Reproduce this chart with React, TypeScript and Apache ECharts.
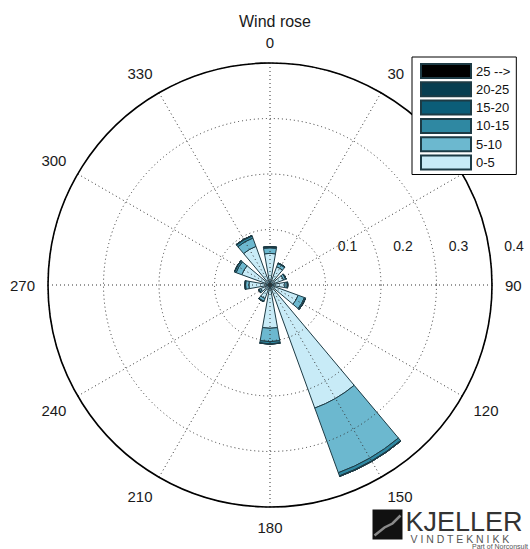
import React, { useEffect, useRef } from 'react';
import * as echarts from 'echarts';

// Direction sectors (degrees, clockwise from north)
const directions = ['0', '30', '60', '90', '120', '150', '180', '210', '240', '270', '300', '330'];
// Speed bins (m/s), inner to outer
const speedBins = ['0-5', '5-10', '10-15', '15-20', '20-25', '25 -->'];
// Frequencies per bin per direction (fraction of time)
const freq0to5 = [0.057, 0.035, 0.026, 0.027, 0.054, 0.236, 0.078, 0.026, 0.018, 0.038, 0.054, 0.074];
const freq5to10 = [0.010, 0.006, 0.004, 0.004, 0.012, 0.124, 0.024, 0.005, 0.003, 0.006, 0.011, 0.016];
const freq10to15 = [0.002, 0.001, 0.001, 0.001, 0.002, 0.006, 0.004, 0.001, 0.001, 0.001, 0.003, 0.004];
const freq15to20 = [0, 0, 0, 0, 0.0005, 0.001, 0.0005, 0, 0, 0, 0.0005, 0.001];
const freq20to25 = [0, 0, 0, 0, 0, 0, 0, 0, 0, 0, 0, 0];
const freq25plus = [0, 0, 0, 0, 0, 0, 0, 0, 0, 0, 0, 0];
const binValues = [freq0to5, freq5to10, freq10to15, freq15to20, freq20to25, freq25plus];
const binColors = ['#c8ebf7', '#6cb8cf', '#2f88a2', '#0b5d78', '#073e51', '#000000'];
const legendOrder = ['25 -->', '20-25', '15-20', '10-15', '5-10', '0-5'];
// Radial axis
const radiusMax = 0.4;
const radiusStep = 0.1;

const FONT = "'Liberation Sans', Arial, Helvetica, sans-serif";

export default function App() {
  const ref = useRef<HTMLDivElement>(null);
  useEffect(() => {
    if (!ref.current) return;
    const chart = echarts.init(ref.current, null, { renderer: 'svg' });
    const center = [270, 285];
    const radius = 222;
    const dotted = { color: '#333', width: 1, type: [1, 3] as any };
    chart.setOption({
      animation: false,
      backgroundColor: '#fff',
      textStyle: { fontFamily: FONT },
      title: {
        text: 'Wind rose',
        left: 270,
        top: 8,
        textAlign: 'center',
        textStyle: { fontSize: 16, fontWeight: 'normal', color: '#1a1a1a', fontFamily: FONT },
      },
      legend: {
        orient: 'vertical',
        left: 412,
        top: 57,
        padding: [6, 6, 4, 8],
        data: legendOrder,
        itemWidth: 50,
        itemHeight: 14,
        itemGap: 2.3,
        backgroundColor: '#fff',
        borderColor: '#000',
        borderWidth: 1,
        borderRadius: 0,
        icon: 'rect',
        textStyle: { fontSize: 13, color: '#111', lineHeight: 14, fontFamily: FONT },
        z: 20,
      },
      polar: [
        { center, radius },
        { center, radius },
      ],
      angleAxis: [
        {
          polarIndex: 0,
          type: 'category',
          data: directions,
          startAngle: 105,
          clockwise: true,
          boundaryGap: true,
          axisLine: { show: false },
          axisTick: { show: false },
          axisLabel: { show: false },
          splitLine: { show: false },
        },
        {
          polarIndex: 1,
          type: 'value',
          min: 90,
          max: 450,
          interval: 30,
          startAngle: 0,
          clockwise: true,
          z: 10,
          axisLine: { show: true, lineStyle: { color: '#000', width: 1.6 } },
          axisTick: { show: false },
          axisLabel: {
            show: true,
            margin: 13,
            fontSize: 15,
            color: '#1a1a1a',
            fontFamily: FONT,
            formatter: (v: number) => String(v % 360),
          },
          splitLine: { show: true, lineStyle: dotted },
        },
      ],
      radiusAxis: [
        {
          polarIndex: 0,
          type: 'value',
          min: 0,
          max: radiusMax,
          axisLine: { show: false },
          axisTick: { show: false },
          axisLabel: { show: false },
          splitLine: { show: false },
        },
        {
          polarIndex: 1,
          type: 'value',
          min: 0,
          max: radiusMax,
          interval: radiusStep,
          z: 10,
          axisLine: { show: false },
          axisTick: { show: false },
          axisLabel: {
            show: true,
            fontSize: 14,
            color: '#1a1a1a',
            fontFamily: FONT,
            margin: 32,
            padding: [0, 0, 0, 44],
            formatter: (v: number) => (v === 0 ? '' : (Math.round(v * 10) / 10).toFixed(1)),
          },
          splitLine: { show: true, lineStyle: dotted },
        },
      ],
      series: speedBins.map((name, i) => ({
        name,
        type: 'bar',
        coordinateSystem: 'polar',
        polarIndex: 0,
        stack: 'wind',
        barCategoryGap: '33.3%',
        data: binValues[i],
        itemStyle: { color: binColors[i], borderColor: '#1d3b45', borderWidth: 1 },
        emphasis: { disabled: true },
        z: 2,
      })),
      graphic: [
        {
          type: 'group',
          left: 372,
          top: 508,
          children: [
            { type: 'rect', shape: { x: 0, y: 2, width: 30, height: 30 }, style: { fill: '#111' } },
            {
              type: 'polyline',
              shape: { points: [[2, 28], [12, 20], [20, 16], [28, 8]] },
              style: { stroke: '#8a8a8a', lineWidth: 2.5, fill: null },
            },
            {
              type: 'text',
              x: 33,
              y: 2,
              style: { text: 'KJELLER', font: `27px ${FONT}`, fill: '#333', lineHeight: 24 },
            },
            {
              type: 'text',
              x: 38,
              y: 27,
              style: { text: 'V I N D T E K N I K K', font: `10.5px ${FONT}`, fill: '#555', lineHeight: 8 },
            },
          ],
        },
        {
          type: 'text',
          right: 2,
          top: 543,
          style: { text: 'Part of Norconsult', font: `7px ${FONT}`, fill: '#555', lineHeight: 6 },
        },
      ],
    });
    return () => chart.dispose();
  }, []);
  return (
    <div
      ref={ref}
      style={{ position: 'absolute', left: 0, top: 0, width: 530, height: 549 }}
    />
  );
}
